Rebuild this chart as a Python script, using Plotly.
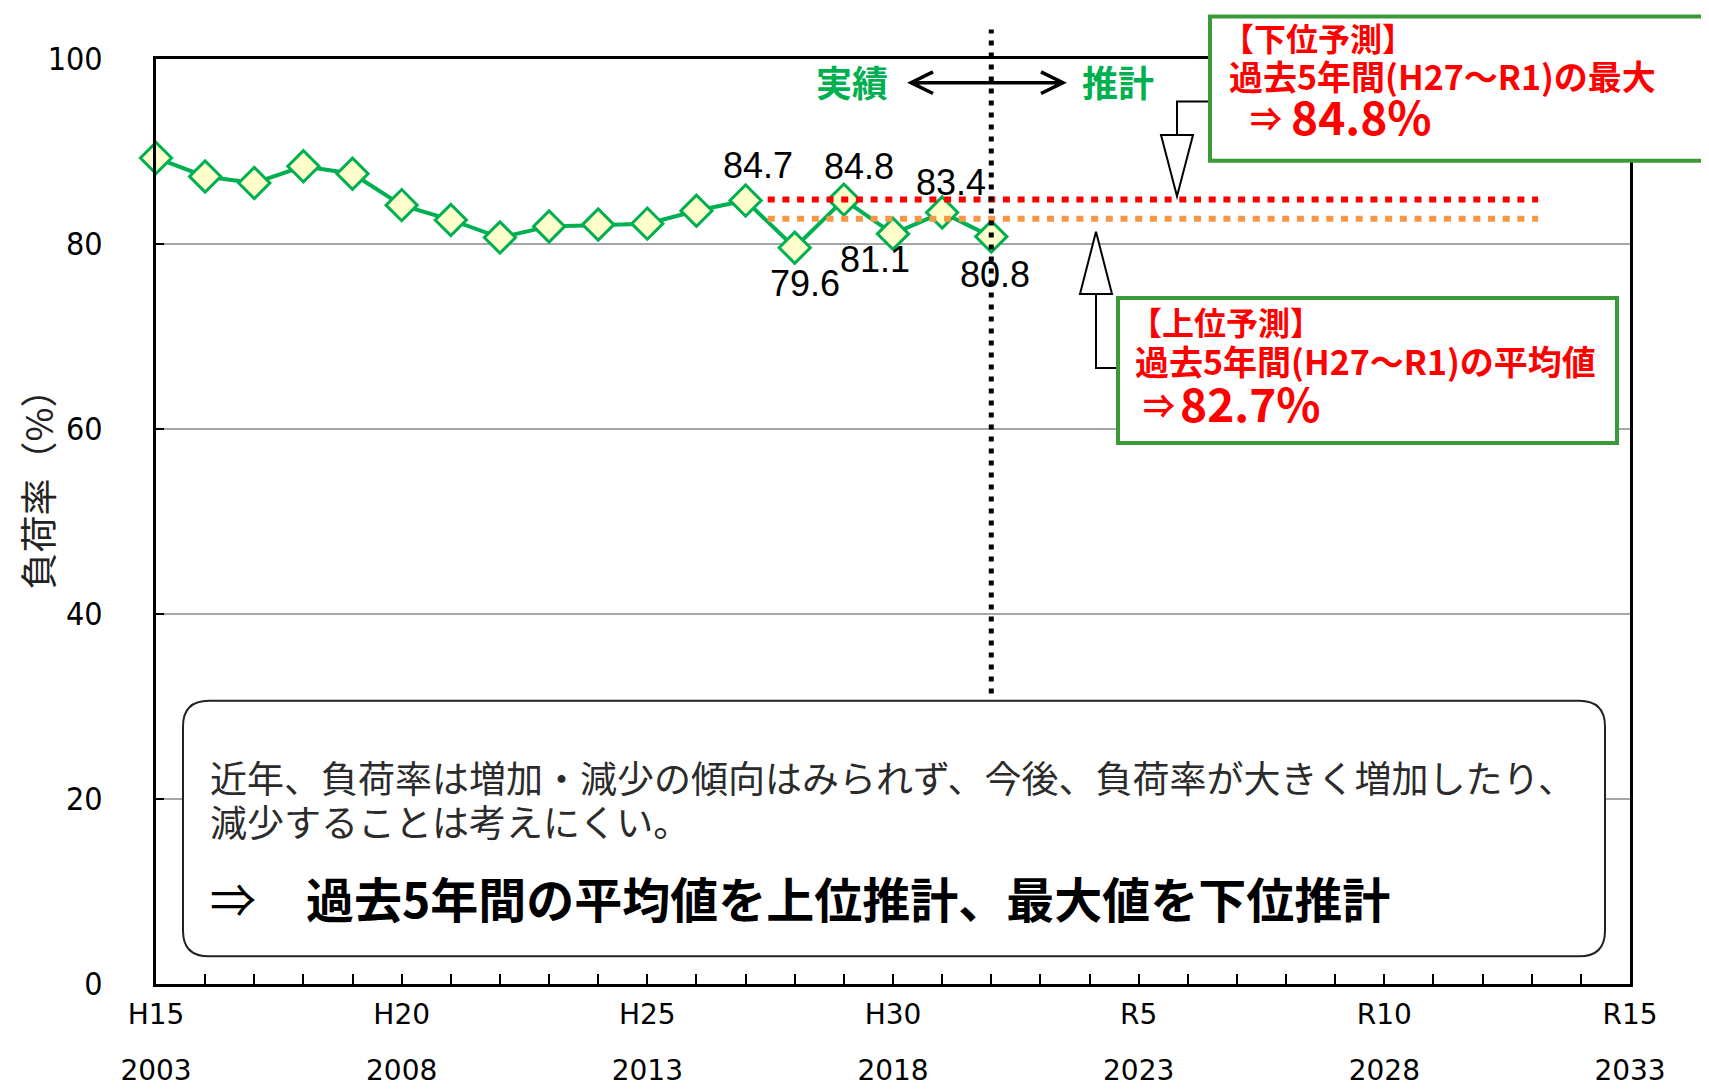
import plotly.graph_objects as go

# ---------------- data ----------------
years = list(range(2003, 2021))
load_factor = [89.3, 87.3, 86.6, 88.4, 87.6, 84.2, 82.6, 80.7, 81.9, 82.1,
               82.2, 83.6, 84.7, 79.6, 84.8, 81.1, 83.4, 80.8]

labeled_years = [2015, 2016, 2017, 2018, 2019, 2020]

base_years = [2015, 2016, 2017, 2018, 2019]          # H27～R1
base_values = [load_factor[years.index(y)] for y in base_years]
lower_forecast = max(base_values)                     # 84.8
upper_forecast = sum(base_values) / len(base_values)  # 82.7

tick_years = [2003, 2008, 2013, 2018, 2023, 2028, 2033]
tick_wareki = ["H15", "H20", "H25", "H30", "R5", "R10", "R15"]
tick_seireki = ["2003", "2008", "2013", "2018", "2023", "2028", "2033"]

y_ticks = [0, 20, 40, 60, 80, 100]

# ---------------- style / layout helpers ----------------
W, H = 1709, 1091
L, R, T, B = 148, 1622, 51, 988

def px(x):
    return (x - L) / (R - L)

def py(y):
    return (B - y) / (B - T)

GREEN = "#00B050"
BOX_GREEN = "#3A9A3A"
RED = "#FF0000"
ORANGE = "#F79646"
CJK = "Noto Sans CJK JP"

label_offsets = {2015: (12, -35), 2016: (10, 36), 2017: (15, -33),
                 2018: (-18, 26), 2019: (9, -30), 2020: (4, 38)}

fig = go.Figure()

fig.add_trace(go.Scatter(
    x=years, y=load_factor, mode="lines+markers",
    line=dict(color=GREEN, width=4),
    marker=dict(symbol="diamond", size=24, color="#FFFFCC",
                line=dict(color=GREEN, width=3)),
    cliponaxis=False, showlegend=False, hoverinfo="x+y"))

# invisible trace to activate second x-axis (year row)
fig.add_trace(go.Scatter(x=tick_years, y=[None] * len(tick_years), xaxis="x2",
                         mode="markers", showlegend=False, hoverinfo="skip"))

shapes = []
annotations = []

# forecast lines
line_x0, line_x1 = 2015.45, 2031.13
shapes.append(dict(type="line", xref="x", yref="y", x0=line_x0, x1=line_x1,
                   y0=lower_forecast, y1=lower_forecast,
                   line=dict(color=RED, width=6, dash="7px,7.7px")))
shapes.append(dict(type="line", xref="x", yref="y", x0=line_x0, x1=line_x1,
                   y0=upper_forecast, y1=upper_forecast,
                   line=dict(color=ORANGE, width=6, dash="7px,7.7px")))

# vertical dotted separator at last actual year
shapes.append(dict(type="line", xref="x", yref="paper", x0=years[-1], x1=years[-1],
                   y0=31.4 / 100, y1=103.2 / 100,
                   line=dict(color="black", width=5, dash="5px,7px")))

# 実績 <-> 推計 double arrow (open chevrons)
ay = 75
arrow_path = (f"M {px(903)},{py(ay)} L {px(1055)},{py(ay)} "
              f"M {px(925)},{py(ay-11)} L {px(903)},{py(ay)} L {px(925)},{py(ay+11)} "
              f"M {px(1033)},{py(ay-11)} L {px(1055)},{py(ay)} L {px(1033)},{py(ay+11)}")
shapes.append(dict(type="path", xref="paper", yref="paper", path=arrow_path,
                   line=dict(color="black", width=3.5)))
annotations.append(dict(xref="paper", yref="paper", x=px(844), y=py(73), text="実績",
                        showarrow=False, xanchor="center", yanchor="middle",
                        font=dict(family=CJK, size=36, color=GREEN, weight="bold")))
annotations.append(dict(xref="paper", yref="paper", x=px(1110), y=py(73), text="推計",
                        showarrow=False, xanchor="center", yanchor="middle",
                        font=dict(family=CJK, size=36, color=GREEN, weight="bold")))

# data labels
for yr in labeled_years:
    dx, dy = label_offsets[yr]
    v = load_factor[years.index(yr)]
    annotations.append(dict(xref="x", yref="y", x=yr, y=v, text=f"{v:.1f}",
                            showarrow=False, xshift=dx, yshift=-dy,
                            xanchor="center", yanchor="middle",
                            font=dict(family="Liberation Sans", size=36, color="black")))

# connector for lower forecast (top-right box)
shapes.append(dict(type="path", xref="paper", yref="paper",
                   path=f"M {px(1202)},{py(94)} L {px(1169)},{py(94)} L {px(1169)},{py(128)}",
                   line=dict(color="black", width=2)))
shapes.append(dict(type="path", xref="paper", yref="paper",
                   path=f"M {px(1153)},{py(128)} L {px(1185)},{py(128)} L {px(1169)},{py(190)} Z",
                   line=dict(color="black", width=2), fillcolor="white"))
# connector for upper forecast (middle-right box)
shapes.append(dict(type="path", xref="paper", yref="paper",
                   path=f"M {px(1110)},{py(364)} L {px(1088)},{py(364)} L {px(1088)},{py(289)}",
                   line=dict(color="black", width=2)))
shapes.append(dict(type="path", xref="paper", yref="paper",
                   path=f"M {px(1072)},{py(289)} L {px(1104)},{py(289)} L {px(1088)},{py(226)} Z",
                   line=dict(color="black", width=2), fillcolor="white"))

# boxes
shapes.append(dict(type="rect", xref="paper", yref="paper",
                   x0=px(1202), x1=px(1702), y0=py(154), y1=py(8),
                   line=dict(color=BOX_GREEN, width=4), fillcolor="white"))
shapes.append(dict(type="rect", xref="paper", yref="paper",
                   x0=px(1110), x1=px(1609), y0=py(440), y1=py(293),
                   line=dict(color=BOX_GREEN, width=4), fillcolor="white"))

period_txt = "過去5年間(H27～R1)"
def red_text(x, y, text, size):
    annotations.append(dict(xref="paper", yref="paper", x=px(x), y=py(y), text=text,
                            showarrow=False, xanchor="left", yanchor="middle",
                            font=dict(family=CJK, size=size, color=RED, weight="bold")))

red_text(1212, 29, "【下位予測】", 32)
red_text(1219, 68, period_txt + "の最大", 34)
red_text(1240, 110, "⇒", 32)
red_text(1281, 108, f"{lower_forecast:.1f}%", 46)

red_text(1120, 316, "【上位予測】", 32)
red_text(1125, 356, period_txt + "の平均値", 34)
red_text(1133, 400, "⇒", 32)
red_text(1170, 398, f"{upper_forecast:.1f}%", 46)

# bottom rounded text box
bx0, by0, bx1, by1, r = 175, 701, 1597, 960, 26
rpath = (f"M {px(bx0+r)},{py(by0)} L {px(bx1-r)},{py(by0)} "
         f"Q {px(bx1)},{py(by0)} {px(bx1)},{py(by0+r)} "
         f"L {px(bx1)},{py(by1-r)} Q {px(bx1)},{py(by1)} {px(bx1-r)},{py(by1)} "
         f"L {px(bx0+r)},{py(by1)} Q {px(bx0)},{py(by1)} {px(bx0)},{py(by1-r)} "
         f"L {px(bx0)},{py(by0+r)} Q {px(bx0)},{py(by0)} {px(bx0+r)},{py(by0)} Z")
shapes.append(dict(type="path", xref="paper", yref="paper", path=rpath,
                   line=dict(color="#222222", width=2), fillcolor="white"))

body_font = dict(family=CJK, size=37, color="#2b2b2b")
annotations.append(dict(xref="paper", yref="paper", x=px(200), y=py(778),
                        text="近年、負荷率は増加・減少の傾向はみられず、今後、負荷率が大きく増加したり、",
                        showarrow=False, xanchor="left", yanchor="middle", font=body_font))
annotations.append(dict(xref="paper", yref="paper", x=px(200), y=py(823),
                        text="減少することは考えにくい。",
                        showarrow=False, xanchor="left", yanchor="middle", font=body_font))
annotations.append(dict(xref="paper", yref="paper", x=px(200), y=py(900), text="⇒",
                        showarrow=False, xanchor="left", yanchor="middle",
                        font=dict(family=CJK, size=46, color="black")))
annotations.append(dict(xref="paper", yref="paper", x=px(296), y=py(900),
                        text="過去5年間の平均値を上位推計、最大値を下位推計",
                        showarrow=False, xanchor="left", yanchor="middle",
                        font=dict(family=CJK, size=48, color="black", weight="bold")))

# y-axis title
annotations.append(dict(xref="paper", yref="paper", x=px(29), y=py(478),
                        text="負荷率（%）", textangle=-90, showarrow=False,
                        xanchor="center", yanchor="middle",
                        font=dict(family=CJK, size=37, color="#222222")))

fig.update_layout(
    width=W, height=H,
    margin=dict(l=L, r=W - R, t=T, b=H - B, pad=0),
    paper_bgcolor="white", plot_bgcolor="white",
    showlegend=False,
    xaxis=dict(range=[tick_years[0], tick_years[-1]], tickmode="array",
               tickvals=tick_years, ticktext=tick_wareki,
               ticks="inside", ticklen=10, tickwidth=2, tickcolor="black",
               minor=dict(tickmode="linear", tick0=tick_years[0], dtick=1,
                          ticks="inside", ticklen=10, tickwidth=2, tickcolor="black",
                          showgrid=False),
               showline=True, linecolor="black", linewidth=3, mirror=True,
               showgrid=False, zeroline=False, ticklabelstandoff=3,
               tickfont=dict(family="DejaVu Sans", size=28, color="black")),
    xaxis2=dict(overlaying="x", side="bottom", anchor="y",
                range=[tick_years[0], tick_years[-1]], tickmode="array",
                tickvals=tick_years, ticktext=tick_seireki,
                ticks="", showline=False, showgrid=False, zeroline=False,
                ticklabelstandoff=67,
                tickfont=dict(family="DejaVu Sans", size=28, color="black")),
    yaxis=dict(range=[0, 100], tickmode="array", tickvals=y_ticks,
               ticks="inside", ticklen=8, tickwidth=2, tickcolor="black",
               showline=True, linecolor="black", linewidth=3, mirror=True,
               showgrid=True, gridcolor="#A6A6A6", gridwidth=1.5, zeroline=False,
               ticklabelstandoff=44,
               tickfont=dict(family="DejaVu Sans Condensed, DejaVu Sans", size=32, color="black")),
    shapes=shapes, annotations=annotations,
)

fig.write_html("out.html")
